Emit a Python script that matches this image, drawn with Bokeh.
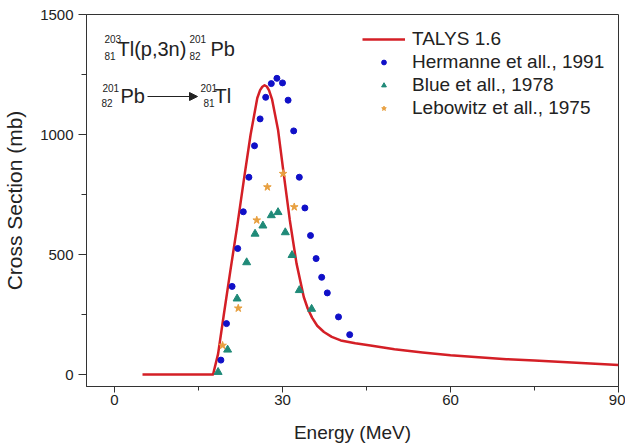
from bokeh.plotting import figure
from bokeh.models import (FixedTicker, Legend, LegendItem, Label, Arrow, NormalHead, Range1d)
from bokeh.embed import file_html
from bokeh.resources import INLINE

# TALYS 1.6 calculation
talys_e = [5, 17.6, 18.5, 19.5, 20.7, 21.9, 23.1, 24.3, 25.5, 26.0, 26.4, 26.8, 27.2, 27.6,
           28.15, 29.2, 30.2, 31.3, 32.5, 33.8, 34.5, 35.3, 36.2, 37.4, 38.8, 40.4, 43.0,
           45.7, 50, 55, 60, 65, 70, 75, 80, 85, 90]
talys_xs = [0, 0, 86, 246, 434, 616, 811, 999, 1152, 1185, 1199, 1205, 1200, 1184,
            1145, 1020, 839, 644, 463, 323, 275, 236, 203, 177, 157, 142, 130,
            121, 105, 92, 80, 72, 64, 58, 52, 46, 40]

# Hermanne et all., 1991
herm_e = [19, 20, 21, 22, 23, 24, 25, 26, 27, 28, 29, 30, 31, 32, 33, 34, 35, 36, 37, 38, 40, 42]
herm_xs = [60, 212, 367, 525, 678, 822, 953, 1065, 1155, 1212, 1234, 1215, 1143, 1015,
           822, 694, 579, 483, 405, 340, 240, 166]

# Blue et all., 1978
blue_e = [18.5, 20.2, 21.9, 23.6, 25.1, 26.5, 28.0, 29.2, 30.5, 31.7, 33.0, 35.2]
blue_xs = [10, 103, 316, 467, 586, 620, 663, 676, 592, 497, 351, 273]

# Lebowitz et all., 1975
leb_e = [19.3, 22.1, 25.4, 27.3, 30.1, 32.1]
leb_xs = [121, 276, 643, 781, 837, 698]

x_ticks = [0, 30, 60, 90]
x_minor = [15, 45, 75]
y_ticks = [0, 500, 1000, 1500]
y_minor = [250, 750, 1250]

FONT = "Liberation Sans"

p = figure(width=625, height=447, output_backend="svg", toolbar_location=None,
           x_range=Range1d(-5, 90), y_range=Range1d(-50, 1500),
           min_border_left=86, min_border_right=7, min_border_top=14, min_border_bottom=61)
p.grid.visible = False
p.outline_line_color = "#333333"
p.outline_line_width = 1
p.background_fill_color = "white"

r_talys = p.line(talys_e, talys_xs, line_color="#D41F26", line_width=2.5,
                 line_join="round")
r_herm = p.scatter(herm_e, herm_xs, marker="circle", size=6, fill_color="#1010C8",
                   line_color="#1010C8")
r_blue = p.scatter(blue_e, blue_xs, marker="triangle", size=8, fill_color="#1F8A78",
                   line_color="#1F8A78")
r_leb = p.scatter(leb_e, leb_xs, marker="star", size=8, fill_color="#E8A040",
                  line_color="#E8A040")

for ax in (p.xaxis[0], p.yaxis[0]):
    ax.axis_line_color = "#333333"
    ax.major_tick_line_color = "#333333"
    ax.minor_tick_line_color = "#333333"
    ax.major_tick_in = 0
    ax.minor_tick_in = 0
    ax.major_label_text_font = FONT
    ax.major_label_text_font_size = "15px"
    ax.major_label_text_color = "#222222"
    ax.axis_label_text_font = FONT
    ax.axis_label_text_font_style = "normal"
    ax.axis_label_text_color = "#222222"

p.xaxis[0].ticker = FixedTicker(ticks=x_ticks, minor_ticks=x_minor)
p.yaxis[0].ticker = FixedTicker(ticks=y_ticks, minor_ticks=y_minor)
p.xaxis[0].major_tick_out = 6
p.xaxis[0].minor_tick_out = 4
p.yaxis[0].major_tick_out = 8
p.yaxis[0].minor_tick_out = 5
p.xaxis[0].major_label_standoff = 2
p.yaxis[0].major_label_standoff = 5
p.xaxis[0].axis_label = "Energy (MeV)"
p.yaxis[0].axis_label = "Cross Section (mb)"
p.xaxis[0].axis_label_text_font_size = "19px"
p.yaxis[0].axis_label_text_font_size = "21px"
p.xaxis[0].axis_label_standoff = 14
p.yaxis[0].axis_label_standoff = 11

legend = Legend(items=[
    LegendItem(label="TALYS 1.6", renderers=[r_talys]),
    LegendItem(label="Hermanne et all., 1991", renderers=[r_herm]),
    LegendItem(label="Blue et all., 1978", renderers=[r_blue]),
    LegendItem(label="Lebowitz et all., 1975", renderers=[r_leb]),
], location=(276, 267), border_line_alpha=0, background_fill_alpha=0,
    label_text_font=FONT, label_text_font_size="19px", label_text_color="#222222",
    glyph_width=43, glyph_height=12, label_height=22, spacing=1, padding=0,
    margin=0, label_standoff=7)
p.add_layout(legend, "center")

def lab(text, sx, sy, size):
    p.add_layout(Label(x=sx, y=sy, x_units="screen", y_units="screen", text=text,
                       text_font=FONT, text_font_size=size, text_color="#222222",
                       text_baseline="middle", text_align="left"))

# reaction annotation
lab("203", 18, 348, "10px")
lab("81", 18, 331, "10px")
lab("Tl(p,3n)", 31, 338, "20px")
lab("201", 103, 348, "10px")
lab("82", 103, 331, "10px")
lab("Pb", 124, 338, "20px")
# decay annotation
lab("201", 16, 299, "10px")
lab("82", 15, 284, "10px")
lab("Pb", 34, 291, "20px")
p.add_layout(Arrow(x_start=61, y_start=290, x_end=111, y_end=290,
                   start_units="screen", end_units="screen", line_width=1,
                   line_color="#222222",
                   end=NormalHead(size=8, fill_color="#222222", line_color="#222222")))
lab("201", 114, 299, "10px")
lab("81", 117, 284, "10px")
lab("Tl", 128, 291, "20px")

open("out.html", "w").write(file_html(p, INLINE))
